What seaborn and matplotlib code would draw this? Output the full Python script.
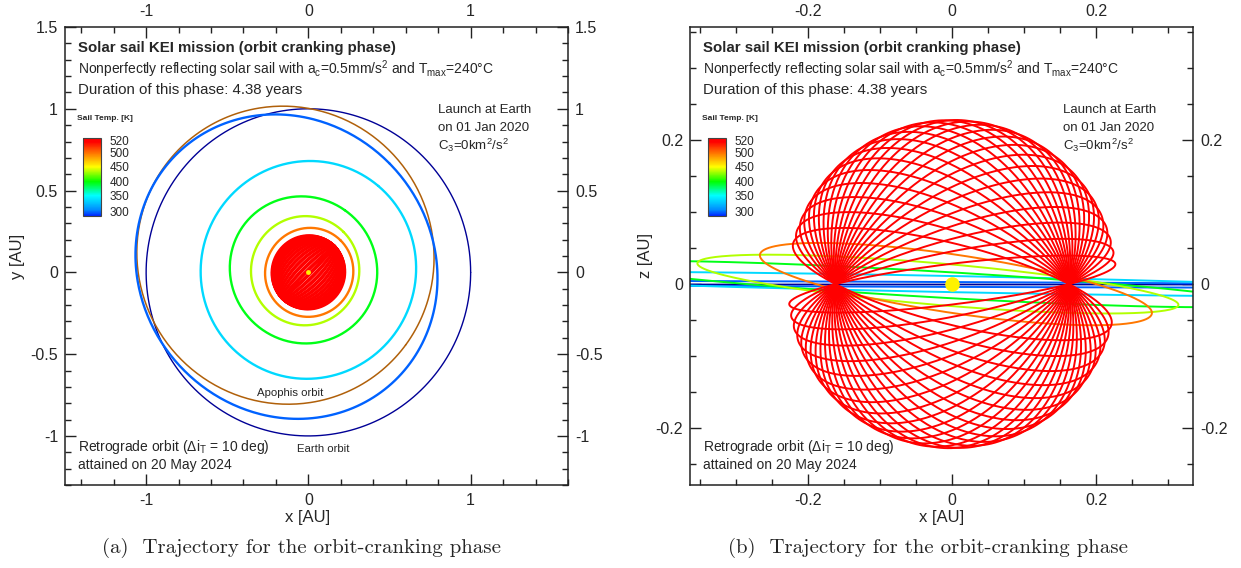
import numpy as np
import pandas as pd
import matplotlib
matplotlib.use("Agg")
import matplotlib.pyplot as plt
import matplotlib.colors as mcolors
import matplotlib.ticker as mticker
import seaborn as sns

# sail temperature scale: value -> position on the colour bar
temp_ticks = [300, 350, 400, 450, 500, 520]
temp_knots = [290, 300, 350, 400, 450, 500, 520, 530]
bar_knots = [0.0, 0.06, 0.26, 0.44, 0.63, 0.81, 0.97, 1.0]

# spiral-in revolutions (AU, deg, K)
ring_rx = [0.895, 0.67, 0.445, 0.335, 0.275]
ring_ry = [0.965, 0.66, 0.46, 0.335, 0.275]
ring_cx = [-0.135, 0.0, -0.03, -0.02, 0.005]
ring_cy = [0.035, 0.015, 0.015, 0.01, 0.0]
ring_incl = [0.3, 1.5, 4.0, 7.0, 12.0]
ring_node = [45, 50, 55, 45, 45]
ring_temp = [298, 335, 395, 435, 498]

# cranking phase: radius, node and inclination of each revolution
crank_radius = 0.228
crank_node = 44.7
crank_temp = 520
crank_incl = [20, 26, 32, 38, 44, 50, 56, 62, 68, 74, 80, 86, 92, 98, 104, 110,
              116, 122, 128, 134, 140, 146, 152, 158, 164, 170]

# planet orbits (a [AU], e, perihelion direction [deg])
earth_orbit = [1.0, 0.0, 0.0]
apophis_orbit = [0.922, 0.191, -36.6]


def ring_points(rx, ry, cx, cy, incl, node, n=400):
    u = np.linspace(0, 2 * np.pi, n)
    px, py = rx * np.cos(u), ry * np.sin(u)
    i, w = np.radians(incl), np.radians(node)
    x = cx + px * np.cos(w) - py * np.cos(i) * np.sin(w)
    y = cy + px * np.sin(w) + py * np.cos(i) * np.cos(w)
    z = py * np.sin(i)
    return x, y, z


def kepler_points(a, e, peri, n=400):
    u = np.linspace(0, 2 * np.pi, n)
    b = a * np.sqrt(1 - e ** 2)
    w = np.radians(peri)
    px, py = a * np.cos(u) - a * e, b * np.sin(u)
    return px * np.cos(w) - py * np.sin(w), px * np.sin(w) + py * np.cos(w)


rows = []
for k in range(len(ring_rx)):
    x, y, z = ring_points(ring_rx[k], ring_ry[k], ring_cx[k], ring_cy[k],
                          ring_incl[k], ring_node[k])
    rows.append(pd.DataFrame({"ring": k, "T": ring_temp[k], "x": x, "y": y, "z": z}))
for k, inc in enumerate(crank_incl):
    x, y, z = ring_points(crank_radius, crank_radius, 0, 0, inc, crank_node)
    rows.append(pd.DataFrame({"ring": 100 + k, "T": crank_temp, "x": x, "y": y, "z": z}))
traj = pd.concat(rows, ignore_index=True)

ex, ey = kepler_points(*earth_orbit)
apx, apy = kepler_points(*apophis_orbit)

cmap = mcolors.LinearSegmentedColormap.from_list("sailtemp", [
    (0.0, (0.0, 0.15, 1.0)), (0.08, (0.0, 0.55, 1.0)), (0.26, (0.0, 1.0, 1.0)),
    (0.44, (0.0, 1.0, 0.0)), (0.63, (1.0, 1.0, 0.0)), (0.81, (1.0, 0.45, 0.0)),
    (0.95, (1.0, 0.0, 0.0)), (1.0, (1.0, 0.0, 0.0))])
norm = mcolors.FuncNorm((lambda t: np.interp(t, temp_knots, bar_knots),
                         lambda f: np.interp(f, bar_knots, temp_knots)),
                        vmin=290, vmax=530)

sns.set_theme(style="ticks")
plt.rcParams["font.family"] = ["Liberation Sans", "DejaVu Sans"]
plt.rcParams["mathtext.fontset"] = "custom"
plt.rcParams["mathtext.rm"] = "Liberation Sans"
plt.rcParams["axes.unicode_minus"] = False

fig = plt.figure(figsize=(12.41, 5.68), dpi=100)
ax1 = fig.add_axes([65 / 1241, 1 - 485 / 568, 503 / 1241, 458 / 568])
ax2 = fig.add_axes([690 / 1241, 1 - 485 / 568, 503 / 1241, 458 / 568])

# (a) x-y view
sns.lineplot(x=ex, y=ey, sort=False, estimator=None, color="#000096", lw=1.0, ax=ax1)
sns.lineplot(x=apx, y=apy, sort=False, estimator=None, color="#b0600a", lw=1.1, ax=ax1)
sns.lineplot(data=traj, x="x", y="y", units="ring", estimator=None, sort=False,
             hue="T", palette=cmap, hue_norm=norm, lw=1.7, legend=False, ax=ax1)
ax1.scatter([0], [0], s=12, color="#fff200", zorder=5, linewidths=0)

# (b) x-z view
sns.lineplot(x=ex, y=np.zeros_like(ex), sort=False, estimator=None, color="#000096",
             lw=1.0, ax=ax2)
sns.lineplot(data=traj, x="x", y="z", units="ring", estimator=None, sort=False,
             hue="T", palette=cmap, hue_norm=norm, lw=1.4, legend=False, ax=ax2)
ax2.scatter([0], [0], s=110, color="#fff200", zorder=5, linewidths=0)

ax1.set_xlim(-1.5, 1.6)
ax1.set_ylim(-1.3, 1.5)
ax1.xaxis.set_major_locator(mticker.MultipleLocator(1))
ax1.xaxis.set_minor_locator(mticker.MultipleLocator(0.2))
ax1.yaxis.set_major_locator(mticker.MultipleLocator(0.5))
ax1.yaxis.set_minor_locator(mticker.MultipleLocator(0.1))
ax1.set_xlabel("x [AU]", fontsize=12)
ax1.set_ylabel("y [AU]", fontsize=12, labelpad=4)
ax1.xaxis.set_label_coords(0.483, -0.055)

ax2.set_xlim(-0.364, 0.334)
ax2.set_ylim(-0.279, 0.357)
ax2.xaxis.set_major_locator(mticker.MultipleLocator(0.2))
ax2.xaxis.set_minor_locator(mticker.MultipleLocator(0.05))
ax2.yaxis.set_major_locator(mticker.MultipleLocator(0.2))
ax2.yaxis.set_minor_locator(mticker.MultipleLocator(0.05))
ax2.set_xlabel("x [AU]", fontsize=12)
ax2.set_ylabel("z [AU]", fontsize=12, labelpad=2)
ax2.xaxis.set_label_coords(0.5, -0.055)

fmt = mticker.FuncFormatter(lambda v, p: "{:g}".format(round(v, 6)))
for ax in (ax1, ax2):
    ax.xaxis.set_major_formatter(fmt)
    ax.yaxis.set_major_formatter(fmt)
    ax.tick_params(which="both", direction="in", top=True, right=True,
                   labeltop=True, labelright=True, labelsize=11.5, color="#222222")
    ax.tick_params(which="major", length=8, width=1, pad=5)
    ax.tick_params(axis="x", which="major", pad=6)
    ax.tick_params(which="minor", length=4.5, width=1)
    for s in ax.spines.values():
        s.set_linewidth(1.1)
        s.set_color("#222222")

    ax.text(0.026, 0.954, "Solar sail KEI mission (orbit cranking phase)",
            transform=ax.transAxes, fontsize=10.8, fontweight="bold", va="center")
    ax.text(0.026, 0.908, "Nonperfectly reflecting solar sail with a$_\\mathrm{c}$=0.5mm/s$^\\mathrm{2}$"
            " and T$_\\mathrm{max}$=240°C", transform=ax.transAxes, fontsize=10.0, va="center")
    ax.text(0.026, 0.862, "Duration of this phase: 4.38 years",
            transform=ax.transAxes, fontsize=10.8, va="center")
    ax.text(0.742, 0.819, "Launch at Earth", transform=ax.transAxes, fontsize=9.5, va="center")
    ax.text(0.742, 0.780, "on 01 Jan 2020", transform=ax.transAxes, fontsize=9.5, va="center")
    ax.text(0.742, 0.741, "C$_\\mathrm{3}$=0km$^\\mathrm{2}$/s$^\\mathrm{2}$",
            transform=ax.transAxes, fontsize=9.5, va="center")
    ax.text(0.026, 0.083, "Retrograde orbit (Δi$_\\mathrm{T}$ = 10 deg)",
            transform=ax.transAxes, fontsize=10, va="center")
    ax.text(0.026, 0.044, "attained on 20 May 2024",
            transform=ax.transAxes, fontsize=10, va="center")
    ax.text(0.024, 0.80, "Sail Temp. [K]", transform=ax.transAxes, fontsize=6,
            fontweight="bold", va="center")

ax1.text(-0.11, -0.74, "Apophis orbit", fontsize=8.2, ha="center", va="center")
ax1.text(0.09, -1.08, "Earth orbit", fontsize=8.2, ha="center", va="center")

# colour bars
sm = plt.cm.ScalarMappable(norm=norm, cmap=cmap)
for left in (83, 708):
    cax = fig.add_axes([left / 1241, 1 - 216 / 568, 18 / 1241, 78 / 568])
    cb = fig.colorbar(sm, cax=cax, ticks=temp_ticks)
    cb.ax.set_yticklabels([str(t) for t in temp_ticks])
    cb.ax.tick_params(length=0, labelsize=8.5, pad=6)
    cb.ax.minorticks_off()
    cb.outline.set_linewidth(0.8)
    cb.outline.set_edgecolor("#444444")

fig.text(302 / 1241, 1 - 548 / 568, "(a)  Trajectory for the orbit-cranking phase",
         ha="center", va="center", fontfamily="cmr10", fontsize=15)
fig.text(928 / 1241, 1 - 548 / 568, "(b)  Trajectory for the orbit-cranking phase",
         ha="center", va="center", fontfamily="cmr10", fontsize=15)

fig.savefig("out.png", dpi=100)
